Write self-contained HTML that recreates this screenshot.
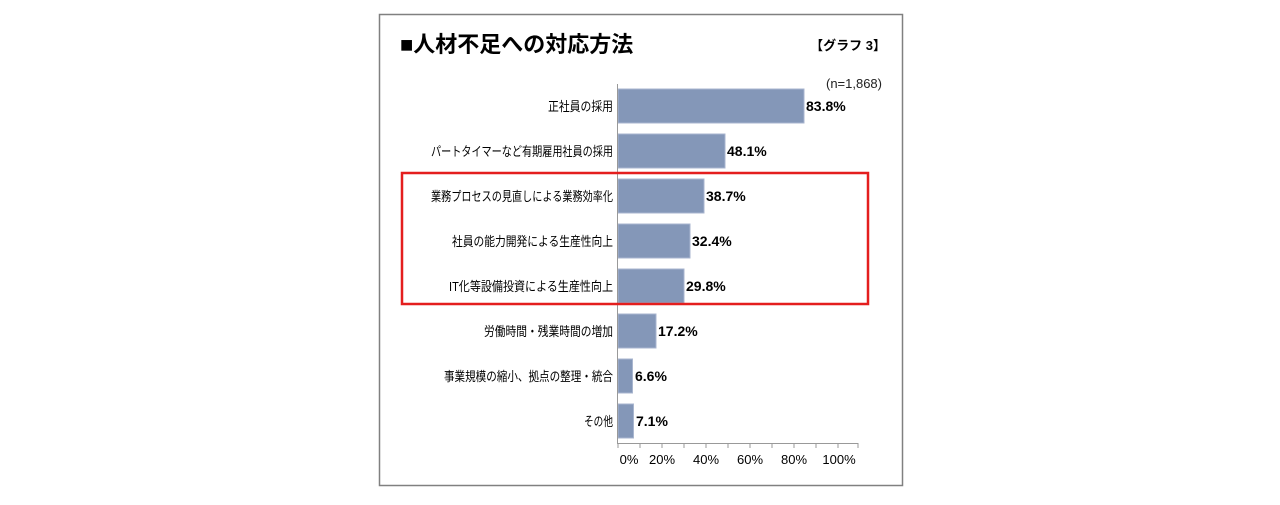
<!DOCTYPE html>
<html><head><meta charset="utf-8"><style>
body{margin:0;background:#fff;width:1280px;height:500px;overflow:hidden}
</style></head><body>
<svg width="1280" height="500" xmlns="http://www.w3.org/2000/svg" font-family="'Liberation Sans','Noto Sans CJK JP',sans-serif">
<rect x="379.5" y="14.5" width="523" height="471" fill="#fff" stroke="#808080" stroke-width="1.5"/>
<text x="400" y="52" font-size="22" font-weight="bold" fill="#000">■人材不足への対応方法</text>
<text x="886" y="50" font-size="13" font-weight="bold" text-anchor="end">【グラフ 3】</text>
<text x="882" y="88" font-size="13" text-anchor="end" fill="#222">(n=1,868)</text>
<g fill="#8497b8" stroke="#a9b6cf" stroke-width="1">
<rect x="618" y="89" width="186" height="34"/>
<rect x="618" y="134" width="107" height="34"/>
<rect x="618" y="179" width="86" height="34"/>
<rect x="618" y="224" width="72" height="34"/>
<rect x="618" y="269" width="66" height="34"/>
<rect x="618" y="314" width="38" height="34"/>
<rect x="618" y="359" width="14.5" height="34"/>
<rect x="618" y="404" width="15.5" height="34"/>
</g>
<g font-size="13" fill="#000" lengthAdjust="spacingAndGlyphs">
<text x="548" y="111" textLength="65" lengthAdjust="spacingAndGlyphs">正社員の採用</text>
<text x="431" y="156" textLength="182" lengthAdjust="spacingAndGlyphs">パートタイマーなど有期雇用社員の採用</text>
<text x="431" y="201" textLength="182" lengthAdjust="spacingAndGlyphs">業務プロセスの見直しによる業務効率化</text>
<text x="452" y="246" textLength="161" lengthAdjust="spacingAndGlyphs">社員の能力開発による生産性向上</text>
<text x="449" y="291" textLength="164" lengthAdjust="spacingAndGlyphs">IT化等設備投資による生産性向上</text>
<text x="484" y="336" textLength="129" lengthAdjust="spacingAndGlyphs">労働時間・残業時間の増加</text>
<text x="444" y="381" textLength="169" lengthAdjust="spacingAndGlyphs">事業規模の縮小、拠点の整理・統合</text>
<text x="584" y="426" textLength="29" lengthAdjust="spacingAndGlyphs">その他</text>
</g>
<g font-size="14" font-weight="bold" fill="#000">
<text x="806" y="111">83.8%</text>
<text x="727" y="156">48.1%</text>
<text x="706" y="201">38.7%</text>
<text x="692" y="246">32.4%</text>
<text x="686" y="291">29.8%</text>
<text x="658" y="336">17.2%</text>
<text x="635" y="381">6.6%</text>
<text x="636" y="426">7.1%</text>
</g>
<g stroke="#999" stroke-width="1">
<line x1="617.5" y1="84" x2="617.5" y2="443"/>
<line x1="617" y1="443.5" x2="858" y2="443.5"/>
<line x1="618" y1="443" x2="618" y2="448"/><line x1="640" y1="443" x2="640" y2="448"/>
<line x1="662" y1="443" x2="662" y2="448"/><line x1="684" y1="443" x2="684" y2="448"/>
<line x1="706" y1="443" x2="706" y2="448"/><line x1="728" y1="443" x2="728" y2="448"/>
<line x1="750" y1="443" x2="750" y2="448"/><line x1="772" y1="443" x2="772" y2="448"/>
<line x1="794" y1="443" x2="794" y2="448"/><line x1="816" y1="443" x2="816" y2="448"/>
<line x1="838" y1="443" x2="838" y2="448"/><line x1="858" y1="443" x2="858" y2="448"/>
</g>
<g font-size="13" text-anchor="middle" fill="#000">
<text x="629" y="464">0%</text><text x="662" y="464">20%</text><text x="706" y="464">40%</text>
<text x="750" y="464">60%</text><text x="794" y="464">80%</text><text x="839" y="464">100%</text>
</g>
<rect x="402" y="173" width="466" height="131" fill="none" stroke="#e41e1e" stroke-width="2.5"/>
</svg>
</body></html>
